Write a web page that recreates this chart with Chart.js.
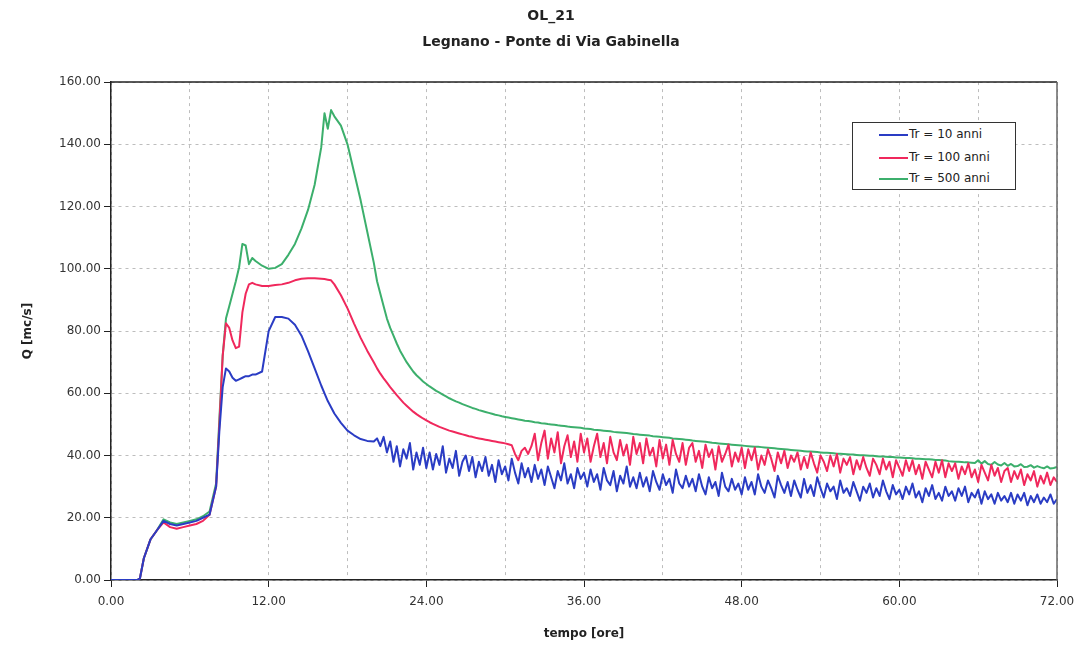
<!DOCTYPE html>
<html lang="it">
<head>
<meta charset="UTF-8">
<title>OL_21 - Legnano - Ponte di Via Gabinella</title>
<style>
  body { margin: 0; background: #fff; }
  #wrap { position: relative; width: 1076px; height: 646px; }
  #legend {
    position: absolute; left: 852px; top: 122px; width: 162px; height: 66px;
    border: 1px solid #333; background: #fff;
    font: 12px "DejaVu Sans", sans-serif; color: #222;
  }
  #legend .row { position: absolute; left: 0; height: 14px; line-height: 14px; white-space: nowrap; }
  #legend .ln { display: inline-block; width: 29px; height: 2px; margin-left: 26px; margin-right: 1px; vertical-align: middle; }
</style>
</head>
<body>
<div id="wrap">
  <canvas id="chart" width="1076" height="646"></canvas>
  <div id="legend"></div>
</div>

<script src="https://cdn.jsdelivr.net/npm/chart.js@4/dist/chart.umd.min.js"></script>
<script>
// time axis [ore]
var hours = [
  0, 0.5, 1, 1.5, 2, 2.2, 2.5, 3, 3.5, 4, 4.5, 5, 5.5, 6, 6.5, 7, 7.5, 8,
  8.25, 8.5, 8.75, 9, 9.25, 9.5, 9.75, 10, 10.25, 10.5, 10.75, 11, 11.5, 12,
  12.5, 13, 13.5, 14, 14.5, 15, 15.5, 16, 16.25, 16.5, 16.75, 17, 17.5, 18, 18.5, 19, 19.5, 20,
  20.25, 20.5, 20.75, 21, 21.25, 21.5, 21.75, 22, 22.25, 22.5, 22.75, 23, 23.25, 23.5, 23.75, 24,
  24.25, 24.5, 24.75, 25, 25.25, 25.5, 25.75, 26, 26.25, 26.5, 26.75, 27, 27.25, 27.5, 27.75, 28,
  28.25, 28.5, 28.75, 29, 29.25, 29.5, 29.75, 30, 30.25, 30.5, 30.75, 31, 31.25, 31.5, 31.75, 32,
  32.25, 32.5, 32.75, 33, 33.25, 33.5, 33.75, 34, 34.25, 34.5, 34.75, 35, 35.25, 35.5, 35.75, 36,
  36.25, 36.5, 36.75, 37, 37.25, 37.5, 37.75, 38, 38.25, 38.5, 38.75, 39, 39.25, 39.5, 39.75, 40,
  40.25, 40.5, 40.75, 41, 41.25, 41.5, 41.75, 42, 42.25, 42.5, 42.75, 43, 43.25, 43.5, 43.75, 44,
  44.25, 44.5, 44.75, 45, 45.25, 45.5, 45.75, 46, 46.25, 46.5, 46.75, 47, 47.25, 47.5, 47.75, 48,
  48.25, 48.5, 48.75, 49, 49.25, 49.5, 49.75, 50, 50.25, 50.5, 50.75, 51, 51.25, 51.5, 51.75, 52,
  52.25, 52.5, 52.75, 53, 53.25, 53.5, 53.75, 54, 54.25, 54.5, 54.75, 55, 55.25, 55.5, 55.75, 56,
  56.25, 56.5, 56.75, 57, 57.25, 57.5, 57.75, 58, 58.25, 58.5, 58.75, 59, 59.25, 59.5, 59.75, 60,
  60.25, 60.5, 60.75, 61, 61.25, 61.5, 61.75, 62, 62.25, 62.5, 62.75, 63, 63.25, 63.5, 63.75, 64,
  64.25, 64.5, 64.75, 65, 65.25, 65.5, 65.75, 66, 66.25, 66.5, 66.75, 67, 67.25, 67.5, 67.75, 68,
  68.25, 68.5, 68.75, 69, 69.25, 69.5, 69.75, 70, 70.25, 70.5, 70.75, 71, 71.25, 71.5, 71.75, 72
];

// Q [mc/s], Tr = 10 anni
var q10 = [
  0, 0, 0, 0, 0, 0.5, 7, 13, 16, 19, 18, 17.5, 18, 18.5, 19, 20, 21, 30,
  48, 62, 68, 67, 65, 64, 64.5, 65, 65.5, 65.5, 66, 66, 67, 80,
  84.5, 84.5, 84, 82, 78.5, 73.5, 68, 62.5, 60, 57.5, 55.5, 53.5, 50.5, 48, 46.5, 45.3, 44.7, 44.5,
  45.5, 43, 46, 41, 44.5, 38, 43, 36.5, 42, 39, 44, 35.5, 41, 37, 42.5, 36,
  41, 35.5, 40.5, 37, 43, 34.5, 39, 36, 41.5, 33.5, 38, 40, 35, 39.5, 33, 38,
  35, 39.5, 33.5, 37, 31.5, 38.5, 34, 36.5, 32, 39, 34.5, 31, 37.5, 33, 36, 31.5,
  37, 32.5, 35.5, 30.5, 36.5, 33, 29.5, 35, 32, 37.5, 31, 34, 29.5, 36, 32.5, 34.5,
  30, 35.5, 31.5, 34, 29, 36, 32, 30.5, 35, 28.5, 33.5, 31, 36.5, 30, 33, 29.5,
  34.5, 30, 33, 28.5, 35, 31.5, 29, 34, 30.5, 32.5, 28, 35.5, 31, 29.5, 33.5, 30,
  32.5, 28.5, 34, 30, 27.5, 33, 29.5, 31.5, 27, 34.5, 30, 28.5, 32.5, 29, 31, 27.5,
  33, 29, 31.5, 27.5, 34, 30, 28, 32, 29.5, 26.5, 33.5, 30.5, 28, 31.5, 27, 32,
  29, 26.5, 32.5, 28, 30.5, 27, 33, 29.5, 26.5, 31, 28.5, 30, 26, 32, 28, 29.5,
  27, 31.5, 28.5, 25.5, 30, 28, 31, 26.5, 29.5, 27, 32, 28.5, 26, 30.5, 27.5, 29,
  26, 30, 27.5, 31, 26.5, 28.5, 25, 29.5, 27, 30.5, 26, 28, 25.5, 30, 27, 28.5,
  25.5, 29.5, 27, 30, 25, 28, 26.5, 29, 24.5, 28.5, 26, 27.5, 24.5, 28, 25.5, 27,
  25, 28, 24.5, 27.5, 25.5, 28, 24, 27, 25, 27.5, 24.5, 26.5, 25, 27.5, 24.5, 26
];

// Q [mc/s], Tr = 100 anni
var q100 = [
  0, 0, 0, 0, 0, 0.5, 7, 13, 16, 18.5, 17, 16.5, 17, 17.5, 18, 19, 21, 30,
  50, 72, 82.5, 81, 77, 74.5, 75, 86, 92, 95, 95.5, 95, 94.5, 94.5,
  94.8, 95, 95.5, 96.3, 96.8, 97, 97, 96.8, 96.7, 96.5, 96.3, 95, 91.5, 87.3, 82.4, 77.8, 73.7, 70,
  68, 66.3, 64.8, 63.4, 62, 60.7, 59.4, 58.2, 57, 56, 55, 54.1, 53.3, 52.6, 51.9, 51.3,
  50.7, 50.2, 49.7, 49.2, 48.8, 48.4, 48, 47.7, 47.4, 47.1, 46.8, 46.5, 46.2, 46, 45.7, 45.5,
  45.3, 45.1, 44.9, 44.7, 44.5, 44.3, 44.1, 43.9, 43.6, 43.3, 40.5, 38.5, 41.5, 42.5, 40.5, 43,
  47, 38.5, 44, 48, 39, 45.5, 41, 47.5, 37.5, 43, 46.5, 39.5, 44.5, 38, 47, 41,
  45.5, 38, 43, 47, 39.5, 44, 37.5, 46, 41, 38.5, 45, 40, 43.5, 37, 46, 40.5,
  44, 37.5, 45.5, 40, 42.5, 36.5, 45, 39, 43.5, 37, 45, 40.5, 38, 44, 37, 42.5,
  44, 38, 41.5, 36, 43.5, 39.5, 42, 35.5, 43, 38, 40.5, 43.5, 36.5, 41, 38, 42.5,
  36, 42, 38.5, 42.5, 35.5, 40, 37, 42, 39, 35, 41, 37.5, 41.5, 36, 40, 38,
  41, 35.5, 39.5, 36, 41, 37.5, 34.5, 40, 38, 35, 40, 36.5, 40.5, 34.5, 39, 37,
  39.5, 34, 38.5, 35.5, 39.5, 36, 33.5, 39, 37, 34, 39, 35.5, 38, 33, 38.5, 36,
  33.5, 38.5, 35, 38.5, 34, 37, 32.5, 38, 35.5, 33, 38, 34.5, 38.5, 33, 37.5, 35,
  37.5, 32.5, 36.5, 34, 37.5, 33, 35.5, 31.5, 37, 34.5, 32, 37, 33.5, 36, 31.5, 35,
  36, 31.5, 35, 32.5, 35.5, 30.5, 34, 32, 35, 30, 33.5, 31, 34.5, 30.5, 33, 31.5
];

// Q [mc/s], Tr = 500 anni
var q500 = [
  0, 0, 0, 0, 0, 0.5, 7, 13, 16, 19.5, 18.5, 18, 18.5, 19, 19.5, 20.5, 22, 31,
  52, 72, 84, 88, 92, 96, 100.5, 108, 107.5, 101.5, 103.5, 102.5, 101, 100,
  100.3, 101.5, 104.5, 108, 113, 119, 127, 139, 150, 145, 151, 149, 146, 140, 131, 122, 112, 102,
  96, 92, 88, 84, 81, 78.5, 76, 73.7, 71.8, 70, 68.5, 67, 65.8, 64.8, 63.8, 63,
  62.2, 61.5, 60.8, 60.2, 59.6, 59, 58.4, 57.9, 57.4, 57, 56.5, 56.1, 55.7, 55.3, 55, 54.6,
  54.3, 54, 53.7, 53.4, 53.1, 52.9, 52.6, 52.4, 52.2, 52, 51.8, 51.6, 51.4, 51.2, 51.1, 50.9,
  50.7, 50.6, 50.4, 50.3, 50.1, 50, 49.9, 49.7, 49.6, 49.5, 49.3, 49.2, 49.1, 49, 48.9, 48.7,
  48.6, 48.5, 48.3, 48.2, 48.1, 48, 47.9, 47.8, 47.6, 47.5, 47.4, 47.3, 47.2, 47.1, 46.9, 46.8,
  46.7, 46.6, 46.5, 46.4, 46.2, 46.1, 46, 45.9, 45.8, 45.7, 45.5, 45.4, 45.3, 45.2, 45.1, 45,
  44.8, 44.7, 44.6, 44.5, 44.4, 44.3, 44.1, 44, 43.9, 43.8, 43.7, 43.6, 43.5, 43.4, 43.3, 43.2,
  43.1, 43, 42.9, 42.8, 42.8, 42.7, 42.6, 42.5, 42.4, 42.3, 42.2, 42.1, 42, 41.9, 41.8, 41.7,
  41.6, 41.5, 41.4, 41.3, 41.3, 41.2, 41.1, 41, 40.9, 40.9, 40.8, 40.7, 40.6, 40.6, 40.5, 40.4,
  40.3, 40.3, 40.2, 40.1, 40.1, 40, 39.9, 39.9, 39.8, 39.7, 39.7, 39.6, 39.5, 39.5, 39.4, 39.4,
  39.3, 39.2, 39.2, 39.1, 39, 39, 38.9, 38.8, 38.8, 38.7, 38.6, 38.6, 38.5, 38.4, 38.2, 38.1,
  38, 38, 37.9, 37.8, 37.8, 37.7, 37.6, 38.5, 37.4, 38.2, 37.3, 37, 37.9, 37.1, 36.8, 37.6,
  36.7, 37.3, 36.5, 36.6, 37.2, 36.3, 36.4, 36.9, 36.1, 36.6, 36.2, 35.9, 36.5, 35.8, 36, 36.3
];

var seriesNames = ['Tr = 10 anni', 'Tr = 100 anni', 'Tr = 500 anni'];
var seriesColors = ['#2a3cc4', '#f0285c', '#3caf6c'];

var FONT = '"DejaVu Sans", sans-serif';

function toPoints(values) {
  return hours.map(function (h, i) { return { x: h, y: values[i] }; });
}

// top and right edge of the plot box
var frame = {
  id: 'frame',
  afterDraw: function (chart) {
    var a = chart.chartArea, c = chart.ctx;
    c.save();
    c.lineWidth = 1.5;
    c.strokeStyle = '#222';
    c.beginPath();
    c.moveTo(a.left, a.top);
    c.lineTo(a.right, a.top);
    c.stroke();
    c.strokeStyle = '#666';
    c.beginPath();
    c.moveTo(a.right, a.top);
    c.lineTo(a.right, a.bottom);
    c.stroke();
    c.restore();
  }
};

var datasets = [q10, q100, q500].map(function (vals, i) {
  return {
    label: seriesNames[i],
    data: toPoints(vals),
    borderColor: seriesColors[i],
    borderWidth: 2,
    pointRadius: 0,
    tension: 0,
    fill: false,
    borderJoinStyle: 'round'
  };
});

new Chart(document.getElementById('chart'), {
  type: 'line',
  data: { datasets: datasets },
  plugins: [frame],
  options: {
    responsive: false,
    animation: false,
    // left padding also shifts the centred titles to the right, as in the original
    layout: { padding: { left: 45, right: 19, top: 0, bottom: 0 } },
    plugins: {
      legend: { display: false },
      tooltip: { enabled: false },
      title: {
        display: true, text: 'OL_21', color: '#222',
        font: { family: FONT, size: 14, weight: 'bold' },
        padding: { top: 8, bottom: 9 }
      },
      subtitle: {
        display: true, text: 'Legnano - Ponte di Via Gabinella', color: '#222',
        font: { family: FONT, size: 14, weight: 'bold' },
        padding: { top: 0, bottom: 31.5 }
      }
    },
    scales: {
      x: {
        type: 'linear', min: 0, max: 72,
        afterFit: function (s) { s.height = 66; s.paddingLeft = 0; s.paddingRight = 0; },
        ticks: {
          stepSize: 6, autoSkip: false, maxRotation: 0, padding: 8, color: '#333',
          font: { family: FONT, size: 12 },
          callback: function (v) { return v % 12 === 0 ? v.toFixed(2) : ''; }
        },
        grid: {
          color: '#bdbdbd', lineWidth: 1, tickLength: 7,
          tickColor: function (c) { return c.tick && c.tick.value % 12 === 0 ? '#222' : 'rgba(0,0,0,0)'; }
        },
        border: { color: '#222', width: 1.5, dash: [3, 4] },
        title: {
          display: true, text: 'tempo [ore]', color: '#222',
          font: { family: FONT, size: 12, weight: 'bold' },
          padding: { top: 0, bottom: 5 }
        }
      },
      y: {
        min: 0, max: 160,
        afterFit: function (s) { s.width = 66; s.paddingTop = 0; s.paddingBottom = 0; },
        ticks: {
          stepSize: 20, padding: 3, color: '#333',
          font: { family: FONT, size: 12 },
          callback: function (v) { return v.toFixed(2); }
        },
        grid: { color: '#bdbdbd', lineWidth: 1, tickLength: 7, tickColor: '#222' },
        border: { color: '#222', width: 1.5, dash: [3, 4] },
        title: {
          display: true, text: 'Q [mc/s]', color: '#222',
          font: { family: FONT, size: 12, weight: 'bold' },
          padding: { top: -24, bottom: 0 }
        }
      }
    }
  }
});

// legend box inside the plot, top right
var legendEl = document.getElementById('legend');
var rowTops = [4, 27, 48];
seriesNames.forEach(function (name, i) {
  var row = document.createElement('div');
  row.className = 'row';
  row.style.top = rowTops[i] + 'px';
  var ln = document.createElement('span');
  ln.className = 'ln';
  ln.style.background = seriesColors[i];
  row.appendChild(ln);
  row.appendChild(document.createTextNode(name));
  legendEl.appendChild(row);
});
</script>
</body>
</html>
